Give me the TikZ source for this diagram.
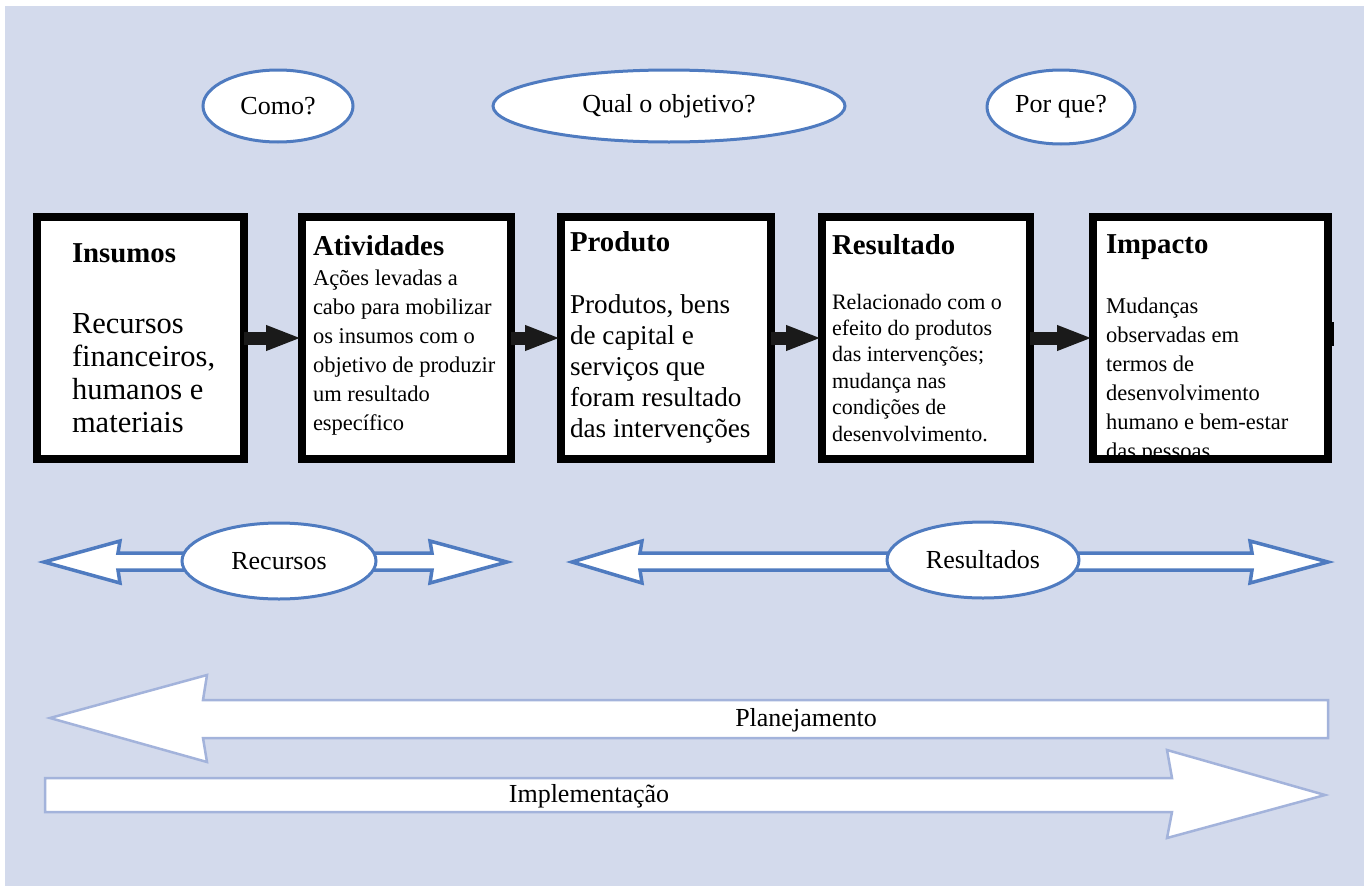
\documentclass[tikz,border=0pt]{standalone}
\usepackage{fontspec}
\setmainfont{Liberation Serif}
\usetikzlibrary{shapes.geometric,arrows.meta}
\definecolor{panel}{HTML}{D3DAEC}
\definecolor{ellblue}{HTML}{4F7BC0}
\definecolor{lightb}{HTML}{A3B3DB}
\definecolor{arrowblack}{HTML}{1A1A1A}
\tikzset{
  box/.style={draw=black, line width=8pt, fill=white, minimum width=#1, minimum height=242pt, inner sep=0pt, outer sep=0pt},
  head/.style={anchor=base west, inner sep=0pt, outer sep=0pt, font=\fontsize{28.8}{30}\selectfont\bfseries},
  body/.style={anchor=north west, inner sep=0pt, outer sep=0pt, align=left},
  ell/.style={ellipse, draw=ellblue, line width=3pt, fill=white, inner sep=0pt, font=\fontsize{26}{28}\selectfont},
  barrow/.style={draw=arrowblack, line width=13pt, -{Triangle[length=36pt,width=23pt]}},
  dbl/.style={draw=ellblue, line width=3.5pt, fill=white, line join=miter},
  bigarrow/.style={draw=lightb, line width=2.5pt, fill=white, line join=miter},
  lbl/.style={inner sep=0pt, font=\fontsize{26}{28}\selectfont}
}
\begin{document}
\begin{tikzpicture}[x=1pt,y=-1pt]
\useasboundingbox (0,0) rectangle (1364,886);
\fill[white] (0,0) rectangle (1364,886);
\fill[panel] (5,6) rectangle (1364,886);

% top ellipses
\node[ell, minimum width=150pt, minimum height=72pt] (como) at (278,106) {Como?};
\node[ell, minimum width=352pt, minimum height=72pt] (qual) at (669,106) {Qual o objetivo?};
\node[ell, minimum width=148pt, minimum height=74pt] (porque) at (1061,107) {Por que?};

% boxes
\node[box=207pt] (b1) at (140.5,338) {};
\node[box=209pt] (b2) at (406.5,338) {};
\node[box=210pt] (b3) at (666,338) {};
\node[box=208pt] (b4) at (926,338) {};
\node[box=235pt] (b5) at (1210.5,338) {};
\fill[black] (1328,322) rectangle (1334,346);

% box texts
\node[head] (h1) at (72,262) {Insumos};
\node[body, font=\fontsize{30.5}{33}\selectfont] (t1) at (72,302.5) {\rule{0pt}{1em}Recursos\\financeiros,\\humanos e\\materiais};

\node[head] (h2) at (313,255) {Atividades};
\node[body, font=\fontsize{22.5}{29}\selectfont] (t2) at (313,262.5) {\rule{0pt}{1em}Ações levadas a\\cabo para mobilizar\\os insumos com o\\objetivo de produzir\\um resultado\\específico};

\node[head] (h3) at (570,251) {Produto};
\node[body, font=\fontsize{27.2}{31}\selectfont] (t3) at (570,285.8) {\rule{0pt}{1em}Produtos, bens\\de capital e\\serviços que\\foram resultado\\das intervenções};

\node[head] (h4) at (832,254) {Resultado};
\node[body, font=\fontsize{22}{26.4}\selectfont] (t4) at (832,287) {\rule{0pt}{1em}Relacionado com o\\efeito do produtos\\das intervenções;\\mudança nas\\condições de\\desenvolvimento.};

\node[head] (h5) at (1106,253) {Impacto};
\begin{scope}
\clip (1097,221) rectangle (1324,455);
\node[body, font=\fontsize{22.5}{29}\selectfont] (t5) at (1106,290.5) {\rule{0pt}{1em}Mudanças\\observadas em\\termos de\\desenvolvimento\\humano e bem-estar\\das pessoas};
\end{scope}

% black arrows between boxes
\draw[barrow] (b1.east) -- (b2.west);
\draw[barrow] (b2.east) -- (b3.west);
\draw[barrow] (b3.east) -- (b4.west);
\draw[barrow] (b4.east) -- (b5.west);

% Recursos double arrow
\coordinate (rl) at (44,562);
\coordinate (rr) at (507,562);
\draw[dbl] (rl) -- (120,541) -- (118,553) -- (432,553) -- (430,541) -- (rr) -- (430,583) -- (432,570) -- (118,570) -- (120,583) -- cycle;
\node[ell, minimum width=194pt, minimum height=76pt] (recursos) at (279,561) {Recursos};

% Resultados double arrow
\coordinate (sl) at (572,562);
\coordinate (sr) at (1328,562);
\draw[dbl] (sl) -- (642,541) -- (640,553) -- (1252,553) -- (1250,541) -- (sr) -- (1250,583) -- (1252,570) -- (640,570) -- (642,583) -- cycle;
\node[ell, minimum width=192pt, minimum height=76pt] (resultados) at (983,560) {Resultados};

% Planejamento arrow
\coordinate (pl) at (50,718);
\draw[bigarrow] (1328,700) -- (203,700) -- (207,675) -- (pl) -- (207,762) -- (203,738) -- (1328,738) -- cycle;
\node[lbl, fill=white, inner sep=2pt] (plan) at (806,720) {Planejamento};

% Implementacao arrow
\coordinate (ir) at (1325,795);
\draw[bigarrow] (45,778) -- (1172,778) -- (1167,750) -- (ir) -- (1167,838) -- (1172,812) -- (45,812) -- cycle;
\node[lbl] (impl) at (589,796) {Implementação};
\end{tikzpicture}
\end{document}
